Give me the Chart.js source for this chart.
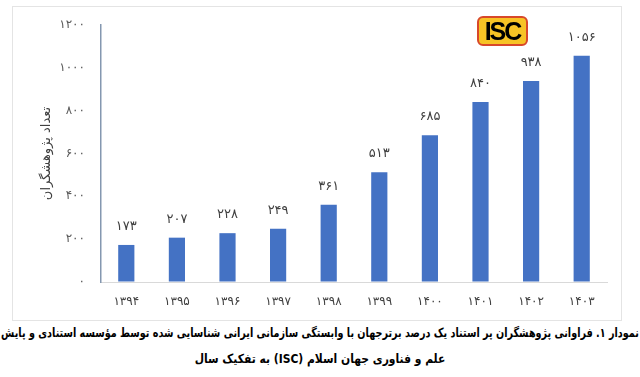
<!DOCTYPE html>
<html>
<head>
<meta charset="utf-8">
<script src="https://cdn.jsdelivr.net/npm/chart.js@4"></script>
<style>
  body { margin: 0; width: 640px; height: 377px; background: #fff; position: relative; overflow: hidden; }
  #frame { position: absolute; left: 12px; top: 6px; width: 608px; height: 313px; border: 1px solid #e4e4e4; }
  #logo { position: absolute; left: 477px; top: 16px; width: 47px; height: 26px; background: #f7c325;
          border: 2px solid #d8482a; border-radius: 6px; font: bold 25px "Liberation Sans", sans-serif;
          letter-spacing: -2px; line-height: 26px; text-align: center; color: #000; }
  .caption { position: absolute; left: -180px; width: 1000px; direction: rtl; text-align: center;
             font: bold 12.5px "DejaVu Sans", sans-serif; line-height: 26px; color: #000;
             white-space: nowrap; transform-origin: 50% 0; }
  #cap1 { top: 320px; transform: scaleX(0.77); }
  #cap2 { top: 346px; transform: scaleX(0.86); }
</style>
</head>
<body>
<div id="frame"><canvas id="chart" width="608" height="313"></canvas></div>
<div id="logo">ISC</div>
<div class="caption" id="cap1">نمودار ۱. فراوانی پژوهشگران پر استناد یک درصد برترجهان با وابستگی سازمانی ایرانی شناسایی شده توسط مؤسسه  استنادی و پایش</div>
<div class="caption" id="cap2">علم و فناوری جهان اسلام (ISC) به تفکیک سال</div>
<script>
const years = ['1394', '1395', '1396', '1397', '1398', '1399', '1400', '1401', '1402', '1403'];   // x-axis categories
const researchers = [173, 207, 228, 249, 361, 513, 685, 840, 938, 1056];                        // bar values
const yTicks = [0, 200, 400, 600, 800, 1000, 1200];                                             // y-axis tick values

// latin digits -> persian digits
function fa(n){
    return String(n).replace(/[0-9]/g, d => '۰۱۲۳۴۵۶۷۸۹'[d]);
}

const barLabels = {             // draws the value above each bar
    id: 'barLabels',
    afterDatasetsDraw(chart){
        const ctx = chart.ctx;
        const meta = chart.getDatasetMeta(0);
        ctx.save();
        ctx.font = '13px "DejaVu Sans", sans-serif';
        ctx.fillStyle = '#404040';
        ctx.textAlign = 'center';
        ctx.textBaseline = 'bottom';
        meta.data.forEach((bar, i) => {
            ctx.fillText(fa(researchers[i]), bar.x, bar.y - 12);
        });
        ctx.restore();
    }
};

new Chart(document.getElementById('chart'), {
    type: 'bar',
    data: {
        labels: years,
        datasets: [{
            data: researchers,
            backgroundColor: '#4472c4',
            barPercentage: 0.32,
            categoryPercentage: 1
        }]
    },
    options: {
        responsive: false,
        animation: false,
        layout: { padding: { top: 18, right: 14, left: 26, bottom: 0 } },
        plugins: { legend: { display: false }, tooltip: { enabled: false } },
        scales: {
            x: {
                grid: { display: false },
                border: { color: '#d9d9d9', width: 1 },
                ticks: { color: '#404040', font: { family: 'DejaVu Sans', size: 12 }, padding: 5,
                         callback: (v, i) => fa(years[i]) },
                afterFit: s => { s.height = 38; }
            },
            y: {
                min: 0, max: 1200,
                afterBuildTicks: s => { s.ticks = yTicks.map(v => ({ value: v })); },
                grid: { display: true, drawOnChartArea: false, drawTicks: true, tickLength: 12,
                        tickColor: 'rgba(0,0,0,0)' },
                border: { color: '#8497b0', width: 1.5 },
                ticks: { color: '#595959', font: { family: 'DejaVu Sans', size: 12 }, padding: 4,
                         callback: v => fa(v) },
                title: { display: true, text: 'تعداد پژوهشگران', color: '#404040',
                         font: { family: 'DejaVu Sans', size: 13 }, padding: 0 },
                afterFit: s => { s.width = 62; }
            }
        }
    },
    plugins: [barLabels]
});
</script>
</body>
</html>
